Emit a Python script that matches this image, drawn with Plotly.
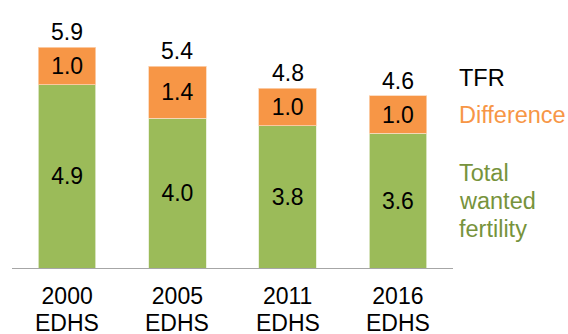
import plotly.graph_objects as go

years = ["2000", "2005", "2011", "2016"]
survey = "EDHS"
wanted = [4.9, 4.0, 3.8, 3.6]
difference = [1.0, 1.4, 1.0, 1.0]
tfr = [5.9, 5.4, 4.8, 4.6]

GREEN = "#9BBB59"
ORANGE = "#F79646"
FONT = "Liberation Sans, Arial, sans-serif"
FS = 23

W, H = 568, 334
ML, MR, MT, MB = 12, 115, 6, 66
PW, PH = W - ML - MR, H - MT - MB

def px_x(x):
    return (x - ML) / PW

def px_y(y):
    return (H - MB - y) / PH

fig = go.Figure()
fig.add_trace(go.Bar(
    x=years, y=wanted, name="Total wanted fertility",
    marker=dict(color=GREEN, line=dict(color="#E6EED6", width=0.8)),
    text=[f"{v:.1f}" for v in wanted], textposition="inside", textangle=0,
    insidetextanchor="middle", insidetextfont=dict(color="black", size=FS, family=FONT),
))
fig.add_trace(go.Bar(
    x=years, y=difference, name="Difference",
    marker=dict(color=ORANGE, line=dict(color="#FBD5B5", width=0.8)),
    text=[f"{v:.1f}" for v in difference], textposition="inside", textangle=0,
    insidetextanchor="middle", insidetextfont=dict(color="black", size=FS, family=FONT),
))

# totals above bars (x given as category index)
for i, t in enumerate(tfr):
    fig.add_annotation(x=i, y=t, xref="x", yref="y", text=f"{t:.1f}", showarrow=False,
                       yanchor="bottom", yshift=1, borderpad=0,
                       font=dict(color="black", size=FS, family=FONT))

# second line of category labels
for i, _ in enumerate(years):
    fig.add_annotation(x=i, y=0, xref="x", yref="y", text=survey, showarrow=False,
                       yanchor="middle", yshift=-55, borderpad=0, height=22,
                       font=dict(color="black", size=FS, family=FONT))

legend_items = [
    ("TFR", "black", 78),
    ("Difference", ORANGE, 115),
    ("Total", "#77933C", 173),
    ("wanted", "#77933C", 201),
    ("fertility", "#77933C", 229),
]
for txt, col, ypx in legend_items:
    fig.add_annotation(
        x=px_x(458), y=px_y(ypx), xref="paper", yref="paper", text=txt, showarrow=False,
        xanchor="left", yanchor="middle", align="left", borderpad=0,
        font=dict(color=col, size=23.5, family=FONT),
    )

fig.update_layout(
    barmode="stack", bargap=0.48,
    width=W, height=H,
    margin=dict(l=ML, r=MR, t=MT, b=MB, autoexpand=False),
    plot_bgcolor="white", paper_bgcolor="white",
    showlegend=False,
    font=dict(family=FONT, size=FS, color="black"),
    xaxis=dict(type="category", range=[-0.5, len(years) - 0.5],
               showline=True, linecolor="#A6A6A6", linewidth=1.3, ticks="",
               ticklabelstandoff=7,
               tickfont=dict(size=FS, color="black"), fixedrange=True),
    yaxis=dict(range=[0, PH / 37.4], visible=False, showgrid=False, fixedrange=True),
)

fig.write_html("out.html", config={"displayModeBar": False},
               post_script="document.body.style.margin='0';")
